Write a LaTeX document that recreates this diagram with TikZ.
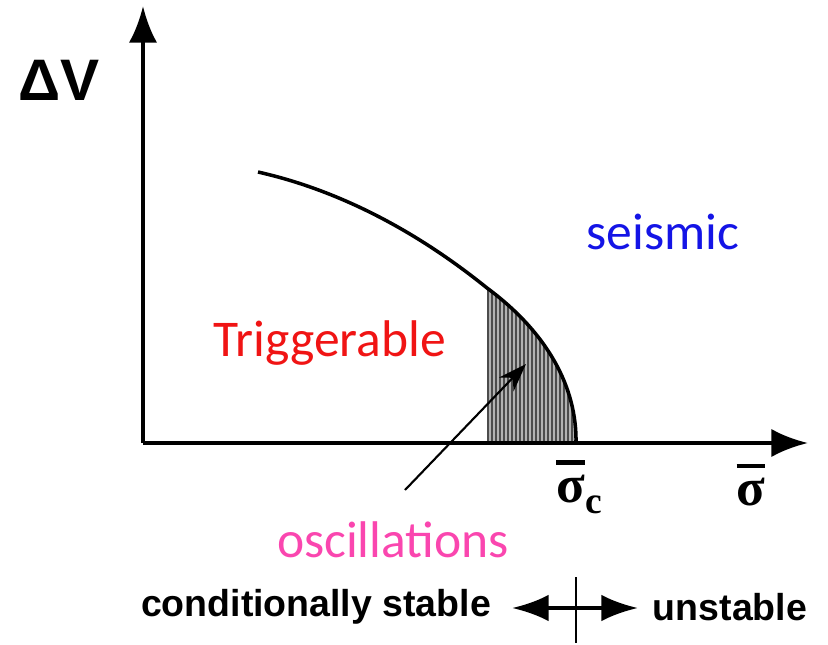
\documentclass[tikz,border=0pt]{standalone}
\usepackage[no-math]{fontspec}
\setmainfont{Liberation Sans}
\newfontfamily\calibri{Carlito}
\newfontfamily\greekserif{Liberation Serif}
\usetikzlibrary{arrows.meta}
\definecolor{seisblue}{RGB}{20,20,230}
\definecolor{trigred}{RGB}{240,20,20}
\definecolor{oscpink}{RGB}{250,70,175}
\newsavebox{\sigglyph}
\newcommand{\sigbar}{\sbox{\sigglyph}{σ}\vbox{\hrule height 0.085em width \wd\sigglyph\kern0.2em\copy\sigglyph}}
\begin{document}
\begin{tikzpicture}[x=0.03cm, y=-0.03cm,
    axis/.style={line width=3.6pt, -{Latex[length=1.1cm, width=0.85cm]}},
    region/.style={font=\calibri\fontsize{44}{44}\selectfont},
    boldtext/.style={font=\bfseries\fontsize{32}{32}\selectfont},
    sig/.style={font=\greekserif\bfseries\fontsize{45}{45}\selectfont}]
	\useasboundingbox (0,0) rectangle (828,645);
	\coordinate (O) at (143,443);
	\coordinate (ytop) at (143,6);
	\coordinate (xend) at (808,443);
	% shaded band under the curve
	\fill[gray!60] (487,288) .. controls (548,333) and (577,388) .. (576,443) -- (487,443) -- cycle;
	\begin{scope}
		\clip (487,288) .. controls (548,333) and (577,388) .. (576,443) -- (487,443) -- cycle;
		\foreach \x in {488,492,...,576}
			\draw[black!70, line width=0.9pt] (\x,280) -- (\x,445);
	\end{scope}
	\draw[line width=3pt] (258,172) .. controls (360,195) and (440,250) .. (487,288)
		.. controls (548,333) and (577,388) .. (576,443);
	\draw[axis] (O) -- (ytop);
	\draw[axis] (O) -- (xend);
	\node[font=\bfseries\fontsize{50}{50}\selectfont] (dV) at (59,80) {ΔV};
	\node[sig, inner sep=0pt] (sigc) at (579,487) {\sigbar\raisebox{-0.2em}{\fontsize{32}{32}\selectfont c}};
	\node[sig, inner sep=0pt] (sig) at (751,485) {\sigbar};
	\node[region, text=seisblue] (seis) at (663,232) {seismic};
	\node[region, text=trigred] (trig) at (330,343) {Triggerable};
	\node[region, text=oscpink] (osc) at (393,540) {oscillations};
	\coordinate (tail) at (405,490);
	\coordinate (tip) at (526,364);
	\draw[line width=1.8pt, -{Stealth[length=0.85cm, width=0.6cm]}] (tail) -- (tip);
	% stability legend
	\node[boldtext] (cond) at (316,607) {conditionally stable};
	\node[boldtext] (unst) at (730,607) {unstable};
	\coordinate (la) at (512,608);
	\coordinate (ra) at (638,608);
	\draw[line width=3.5pt, {Latex[length=1.1cm, width=0.8cm]}-{Latex[length=1.1cm, width=0.8cm]}] (la) -- (ra);
	\coordinate (tt) at (576,577);
	\coordinate (tb) at (576,643);
	\draw[line width=1.2pt] (tt) -- (tb);
\end{tikzpicture}
\end{document}
